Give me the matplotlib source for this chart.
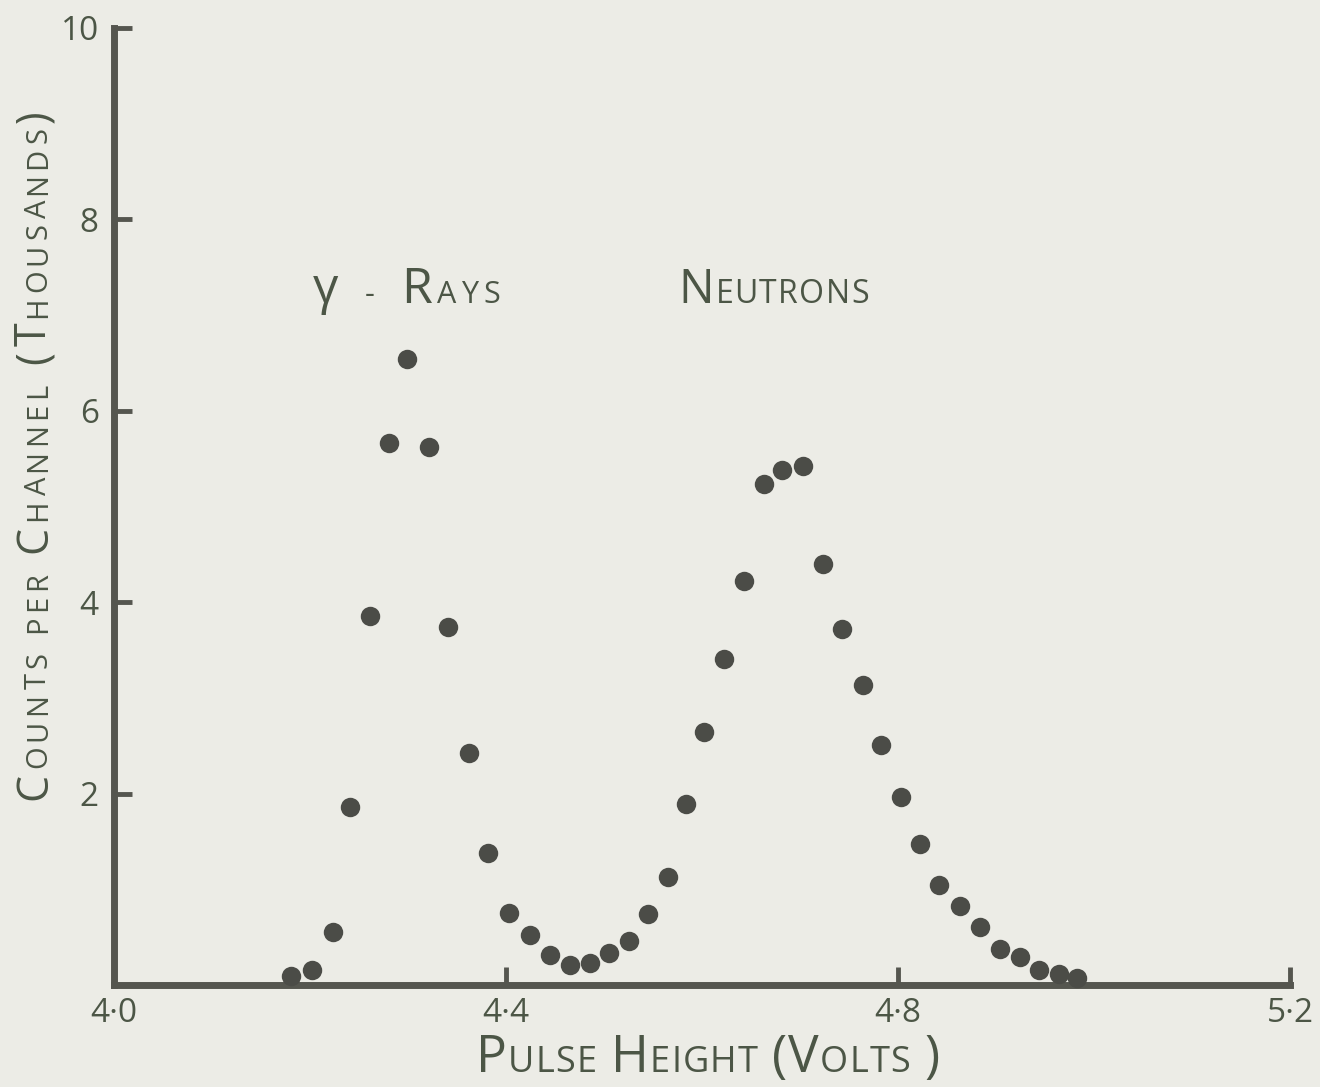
import numpy as np
import matplotlib
matplotlib.use("Agg")
import matplotlib.pyplot as plt
from matplotlib.transforms import IdentityTransform

# ---------------- data ----------------
pulse_height = [4.181, 4.202, 4.223, 4.241, 4.261, 4.281, 4.299, 4.321, 4.341, 4.362,
                4.382, 4.403, 4.425, 4.445, 4.465, 4.486, 4.505, 4.526, 4.545, 4.565,
                4.584, 4.602, 4.622, 4.643, 4.663, 4.682, 4.703, 4.723, 4.743, 4.764,
                4.783, 4.803, 4.822, 4.842, 4.863, 4.884, 4.904, 4.925, 4.944, 4.964,
                4.983]
counts_thousands = [0.09, 0.16, 0.55, 1.86, 3.86, 5.66, 6.54, 5.62, 3.74, 2.42,
                    1.38, 0.75, 0.52, 0.31, 0.21, 0.23, 0.33, 0.46, 0.74, 1.13,
                    1.89, 2.64, 3.41, 4.22, 5.23, 5.38, 5.42, 4.40, 3.72, 3.14,
                    2.51, 1.96, 1.47, 1.05, 0.83, 0.61, 0.38, 0.29, 0.16, 0.12,
                    0.07]
x_ticks = [4.0, 4.4, 4.8, 5.2]
x_tick_labels = ["4·0", "4·4", "4·8", "5·2"]
y_ticks = [2, 4, 6, 8, 10]
y_tick_labels = ["2", "4", "6", "8", "10"]
# annotation labels: text parts with big/small caps flag, anchor in data units
gamma_label = [("γ", True), (" ", False), ("-", False), (" ", False), ("R", True), ("AYS", False)]
gamma_pos = (4.203, 7.13)
neutron_label = [("N", True), ("EUTRONS", False)]
neutron_pos = (4.576, 7.13)
x_label = [("P", True), ("ULSE", False), (" ", False), ("H", True), ("EIGHT", False),
           (" ", False), ("(", True), ("V", True), ("OLTS", False), (" ", False), (")", True)]
y_label = [("C", True), ("OUNTS", False), (" ", False), ("PER", False), (" ", False),
           ("C", True), ("HANNEL", False), (" ", False), ("(", True), ("T", True),
           ("HOUSANDS", False), (")", True)]

# ---------------- style ----------------
DPI = 100
W, H = 1320, 1087
PAPER = "#ecece6"
INK = "#55564f"
DOT = "#4b4c47"
TEXT = "#4c5646"
FAMILY = ["Open Sans", "DejaVu Sans"]

fig = plt.figure(figsize=(W / DPI, H / DPI), dpi=DPI, facecolor=PAPER)
ax = fig.add_axes([114 / W, 102 / H, (1290 - 114) / W, (985 - 28) / H])
ax.set_facecolor(PAPER)
ax.set_xlim(4.0, 5.2)
ax.set_ylim(0, 10)

for side in ("top", "right"):
    ax.spines[side].set_visible(False)
for side in ("left", "bottom"):
    ax.spines[side].set_linewidth(5)
    ax.spines[side].set_color(INK)
    ax.spines[side].set_capstyle("projecting")

ax.set_xticks(x_ticks)
ax.set_xticklabels(x_tick_labels)
ax.set_yticks(y_ticks)
ax.set_yticklabels(y_tick_labels)
ax.tick_params(axis="x", direction="in", length=13, width=3.5, color=INK,
               pad=9, labelsize=24, labelcolor=TEXT)
ax.tick_params(axis="y", direction="in", length=13, width=3.5, color=INK,
               pad=11, labelsize=24, labelcolor=TEXT)
for lab in ax.get_xticklabels() + ax.get_yticklabels():
    lab.set_family(FAMILY)
# the corner tick at 4.0 is not drawn, only its label
ax.xaxis.get_major_ticks()[0].tick1line.set_visible(False)

ax.plot(pulse_height, counts_thousands, linestyle="none", marker="o",
        markersize=14, color=DOT, markeredgewidth=0, clip_on=False, zorder=5)

fig.canvas.draw()
renderer = fig.canvas.get_renderer()


def caps_text(x0, y0, parts, big, small, length=None, rot=0, space=0.35, color=TEXT):
    items = []
    for s, isbig in parts:
        size = big if isbig else small
        for ch in s:
            if ch == " ":
                items.append((None, size * space * DPI / 72))
            else:
                t = fig.text(0, 0, ch, fontsize=size, color=color, family=FAMILY,
                             transform=IdentityTransform(), ha="left", va="baseline",
                             rotation_mode="anchor")
                w = t.get_window_extent(renderer).width
                items.append((t, w))
    natural = sum(w for _, w in items)
    track = (length - natural) / (len(items) - 1) if length else 0.0
    pos = 0.0
    for t, w in items:
        if t is not None:
            t.set_rotation(rot)
            if rot == 90:
                t.set_position((x0, y0 + pos))
            else:
                t.set_position((x0 + pos, y0))
        pos += w + track


gx, gy = ax.transData.transform(gamma_pos)
caps_text(gx, gy, gamma_label, 36, 22, length=187, space=0.55)
nx, ny = ax.transData.transform(neutron_pos)
caps_text(nx, ny, neutron_label, 34, 23, length=190)
caps_text(476, H - 1072, x_label, 37, 26, length=464)
caps_text(46, H - 800, y_label, 31, 21, length=690, rot=90)

fig.savefig("out.png", dpi=DPI, facecolor=PAPER)
